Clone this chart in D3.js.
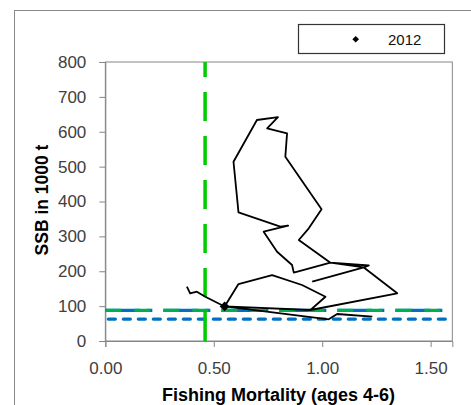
<!DOCTYPE html>
<html><head><meta charset="utf-8">
<script src="https://cdn.jsdelivr.net/npm/d3@7"></script>
<style>body{margin:0;background:#fff}svg{display:block}</style>
</head><body>
<script>
// Trajectory (F, SSB); null marks a break in the line
const fishingMortality = [0.954,1.192,1.215,1.038,0.892,0.938,0.997,0.830,0.838,0.746,0.796,0.699,0.591,0.614,0.807,0.843,0.730,0.792,0.861,0.869,1.000,1.038,1.192,1.346,0.946,1.015,0.907,0.769,0.614,0.550,0.461,0.422,0.391,0.376,null,0.946,0.550,1.030,1.069,1.231];
const ssb = [170,211,216.5,224.5,289.6,323,377.6,528.5,595.6,610,642,633.7,514,369,327.7,331,313.4,256,218,196,218,224.5,211,136.8,88.9,127,160.6,189,163.4,99,127,141.4,136.8,155.7,null,88.9,99,62.2,77.4,69.7];
const highlightYear = ["2012"];
const highlightF = [0.55];
const highlightSSB = [99];
const fReference = [0.46];
const bGreenDashed = [88];
const bBlueDashDot = [88];
const bBlueDashed = [63];
const xTicks = [0, 0.5, 1.0, 1.5];
const yTicks = [0,100,200,300,400,500,600,700,800];
const xTitle = "Fishing Mortality (ages 4-6)";
const yTitle = "SSB in 1000 t";

const W = 471, H = 405;
const FONT = "'Liberation Sans', Arial, sans-serif";
const svg = d3.select("body").append("svg").attr("width", W).attr("height", H);

svg.append("rect").attr("x", 14.5).attr("y", 10.5).attr("width", 500).attr("height", 450)
  .attr("fill", "#fff").attr("stroke", "#898989").attr("stroke-width", 1);

const x = d3.scaleLinear().domain([0, 1.6]).range([105.33, 452.33]);
const y = d3.scaleLinear().domain([0, 800]).range([341, 62]);

// axes
const yAxis = svg.append("g").attr("transform", `translate(${x(0)},0)`)
  .call(d3.axisLeft(y).tickValues(yTicks).tickSize(6).tickPadding(13).tickFormat(d3.format("d")));
const xAxis = svg.append("g").attr("transform", `translate(0,${y(0)})`)
  .call(d3.axisBottom(x).tickValues(xTicks).tickSize(6).tickPadding(15).tickFormat(d3.format(".2f")));
[xAxis, yAxis].forEach(g => {
  g.selectAll("path, line").attr("stroke", "#868686");
  g.selectAll("text").attr("font-family", FONT).attr("font-size", 17).attr("fill", "#404040");
});

// plot-area border
svg.append("rect").attr("x", x(0)).attr("y", y(800)).attr("width", x(1.6) - x(0)).attr("height", y(0) - y(800))
  .attr("fill", "none").attr("stroke", "#868686");

// reference lines
const refs = svg.append("g");
refs.selectAll(".blim").data(bBlueDashed).join("line")
  .attr("x1", x(0)).attr("x2", x(1.6)).attr("y1", d => y(d)).attr("y2", d => y(d))
  .attr("stroke", "#0070C0").attr("stroke-width", 3.3).attr("stroke-dasharray", "7,8")
  .attr("stroke-dashoffset", -3).attr("stroke-linecap", "round");
refs.selectAll(".bdd").data(bBlueDashDot).join("line")
  .attr("x1", x(0)).attr("x2", x(1.6)).attr("y1", d => y(d)).attr("y2", d => y(d))
  .attr("stroke", "#0070C0").attr("stroke-width", 3.3).attr("stroke-dasharray", "35,7,5,11");
refs.selectAll(".bgreen").data(bGreenDashed).join("line")
  .attr("x1", x(0)).attr("x2", x(1.6)).attr("y1", d => y(d)).attr("y2", d => y(d))
  .attr("stroke", "#00B050").attr("stroke-width", 3.3).attr("stroke-dasharray", "16,13");
refs.selectAll(".fref").data(fReference).join("line")
  .attr("x1", d => x(d)).attr("x2", d => x(d)).attr("y1", y(0)).attr("y2", y(800))
  .attr("stroke", "#00CC00").attr("stroke-width", 3.5).attr("stroke-dasharray", "29,15");

// trajectory
const pts = fishingMortality.map((f, i) => [f, ssb[i]]);
const line = d3.line().defined(d => d[0] != null).x(d => x(d[0])).y(d => y(d[1]));
svg.append("path").datum(pts).attr("d", line).attr("fill", "none")
  .attr("stroke", "#000").attr("stroke-width", 1.8).attr("stroke-linejoin", "round");

// highlighted year marker
svg.selectAll(".hl").data(highlightF).join("path")
  .attr("d", d3.symbol(d3.symbolSquare, 48)())
  .attr("transform", (d, i) => `translate(${x(d)},${y(highlightSSB[i])}) rotate(45)`)
  .attr("fill", "#000");

// legend
const lg = svg.append("g");
lg.append("rect").attr("x", 298.5).attr("y", 24.5).attr("width", 146).attr("height", 29)
  .attr("fill", "#fff").attr("stroke", "#333").attr("stroke-width", 1.2);
lg.append("path").attr("d", d3.symbol(d3.symbolSquare, 22)())
  .attr("transform", "translate(355.7,39.3) rotate(45)").attr("fill", "#000");
lg.append("text").attr("x", 388).attr("y", 44.8).text(highlightYear[0])
  .attr("font-family", FONT).attr("font-size", 15).attr("fill", "#111");

// titles
svg.append("text").attr("x", 278.5).attr("y", 401).attr("text-anchor", "middle")
  .attr("font-family", FONT).attr("font-weight", "bold").attr("font-size", 18).attr("fill", "#000").text(xTitle);
svg.append("text").attr("transform", "translate(48.3,200) rotate(-90)").attr("text-anchor", "middle")
  .attr("font-family", FONT).attr("font-weight", "bold").attr("font-size", 17.5).attr("fill", "#000").text(yTitle);
</script>
</body></html>
